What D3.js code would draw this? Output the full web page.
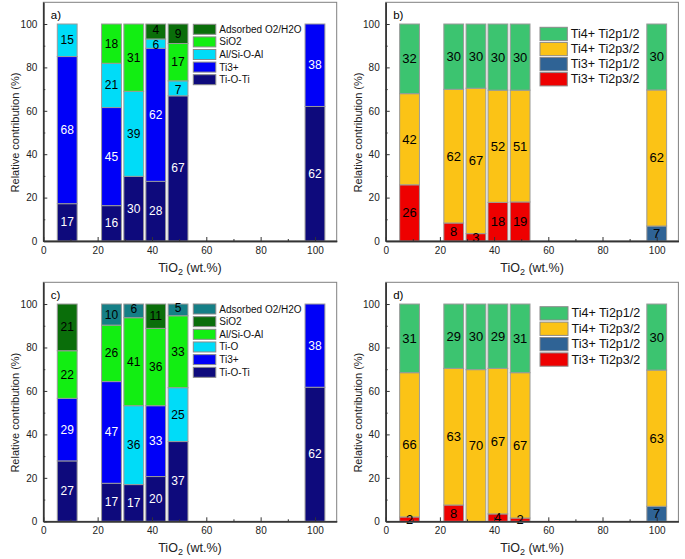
<!DOCTYPE html>
<html><head><meta charset="utf-8">
<script src="https://cdn.jsdelivr.net/npm/d3@7"></script>
<style>body{margin:0;background:#fff}svg{display:block;font-family:"Liberation Sans",Arial,sans-serif}</style>
</head><body><svg id="chart" width="685" height="559"></svg>
<script>
// ---------- DATA ----------
const xVals = [8.8, 25.1, 33.3, 41.4, 49.6, 100];
const xTicks = [0, 20, 40, 60, 80, 100];
const yTicks = [0, 20, 40, 60, 80, 100];

// Panel a (bottom -> top)
const aNames = ["Ti-O-Ti", "Ti3+", "Al/Si-O-Al", "SiO2", "Adsorbed O2/H2O"];
const aValues = [
  [17.2, 16.3, 29.8, 27.5, 66.9, 62],
  [67.8, 45.2, 0, 61.3, 0, 38],
  [15, 20.4, 39.2, 4.3, 6.9, 0],
  [0, 18.1, 31, 0, 17.2, 0],
  [0, 0, 0, 6.9, 9, 0]
];
const aLabels = [
  ["17", "16", "30", "28", "67", "62"],
  ["68", "45", "", "62", "", "38"],
  ["15", "21", "39", "6", "7", ""],
  ["", "18", "31", "", "17", ""],
  ["", "", "", "4", "9", ""]
];

// Panel b (bottom -> top)
const bNames = ["Ti3+ Ti2p3/2", "Ti3+ Ti2p1/2", "Ti4+ Ti2p3/2", "Ti4+ Ti2p1/2"];
const bValues = [
  [25.9, 8.3, 3.4, 17.8, 18, 0],
  [0, 0, 0, 0, 0, 6.9],
  [42, 61.6, 67, 51.7, 51.5, 62.7],
  [32.1, 30.1, 29.6, 30.5, 30.5, 30.4]
];
const bLabels = [
  ["26", "8", "3", "18", "19", ""],
  ["", "", "", "", "", "7"],
  ["42", "62", "67", "52", "51", "62"],
  ["32", "30", "30", "30", "30", "30"]
];

// Panel c (bottom -> top)
const cNames = ["Ti-O-Ti", "Ti3+", "Ti-O", "Al/Si-O-Al", "SiO2", "Adsorbed O2/H2O"];
const cValues = [
  [27.8, 17.5, 16.9, 20.6, 36.7, 61.7],
  [28.8, 46.8, 0, 32.6, 0, 38.3],
  [0, 0, 36.3, 0, 24.8, 0],
  [21.9, 26, 40.5, 35.6, 33.1, 0],
  [21.5, 0, 0, 11.2, 0, 0],
  [0, 9.7, 6.3, 0, 5.4, 0]
];
const cLabels = [
  ["27", "17", "17", "20", "37", "62"],
  ["29", "47", "", "33", "", "38"],
  ["", "", "36", "", "25", ""],
  ["22", "26", "41", "36", "33", ""],
  ["21", "", "", "11", "", ""],
  ["", "10", "6", "", "5", ""]
];

// Panel d (bottom -> top)
const dNames = ["Ti3+ Ti2p3/2", "Ti3+ Ti2p1/2", "Ti4+ Ti2p3/2", "Ti4+ Ti2p1/2"];
const dValues = [
  [2, 7.5, 0, 3.4, 1.5, 0],
  [0, 0, 0, 0, 0, 6.9],
  [66.4, 62.9, 69.8, 67, 66.9, 62.7],
  [31.6, 29.6, 30.2, 29.6, 31.6, 30.4]
];
const dLabels = [
  ["2", "8", "", "4", "2", ""],
  ["", "", "", "", "", "7"],
  ["66", "63", "70", "67", "67", "63"],
  ["31", "29", "30", "29", "31", "30"]
];

// ---------- STYLES ----------
const C = {
  navy: "#0e0a7c", blue: "#0000f8", cyan: "#00dcf8", green: "#12ee12",
  dgreen: "#0a6e0a", teal: "#157f86",
  tgreen: "#3cc470", yellow: "#fbc316", sblue: "#2f6395", red: "#ee0000"
};
const aColors = [C.navy, C.blue, C.cyan, C.green, C.dgreen];
const aText = ["#fff", "#fff", "#000", "#000", "#000"];
const bColors = [C.red, C.sblue, C.yellow, C.tgreen];
const bText = ["#000", "#000", "#000", "#000"];
const cColors = [C.navy, C.blue, C.cyan, C.green, C.dgreen, C.teal];
const cText = ["#fff", "#fff", "#000", "#000", "#000", "#000"];

const svg = d3.select("#chart");
const barW = 7.3;

function drawPanel(p) {
  const g = svg.append("g");
  const x = d3.scaleLinear().domain([0, 108]).range([p.x0, p.x1]);
  const y = d3.scaleLinear().domain([0, 110]).range([p.y0, p.y1]);

  // frame
  g.append("rect").attr("x", p.x0).attr("y", p.y1)
    .attr("width", p.x1 - p.x0).attr("height", p.y0 - p.y1)
    .attr("fill", "none").attr("stroke", "#808080").attr("stroke-width", 1);

  // stacked data
  const rows = xVals.map((xv, i) => {
    const r = { x: xv };
    p.names.forEach((n, k) => r[n] = p.values[k][i]);
    return r;
  });
  const stack = d3.stack().keys(p.names)(rows);

  stack.forEach((layer, k) => {
    layer.forEach((d, i) => {
      const h = d[1] - d[0];
      if (h <= 0) return;
      g.append("rect")
        .attr("x", x(d.data.x - barW / 2))
        .attr("width", x(barW) - x(0))
        .attr("y", y(d[1]))
        .attr("height", y(d[0]) - y(d[1]))
        .attr("fill", p.colors[k])
        .attr("stroke", "#9a9a9a").attr("stroke-width", 1);
    });
  });
  stack.forEach((layer, k) => {
    layer.forEach((d, i) => {
      const lab = p.labels[k][i];
      if (!lab) return;
      const h = d[1] - d[0];
      let dy = 0;
      if (h < 8 && d[0] > 0) dy = d[1] >= 99.9 ? -1.5 : 1.5;
      g.append("text")
        .attr("x", x(d.data.x)).attr("y", y((d[0] + d[1]) / 2) + dy)
        .attr("text-anchor", "middle").attr("dominant-baseline", "central")
        .attr("font-size", p.labelSize).attr("fill", p.textColors[k])
        .text(lab);
    });
  });

  // axes
  const yAx = g.append("g").attr("transform", `translate(${p.x0},0)`)
    .call(d3.axisLeft(y).tickValues(yTicks).tickSizeInner(-4).tickSizeOuter(0).tickPadding(6));
  const yMinor = g.append("g").attr("transform", `translate(${p.x0},0)`)
    .call(d3.axisLeft(y).tickValues([10, 30, 50, 70, 90]).tickSizeInner(-2).tickSizeOuter(0).tickFormat(""));
  const xAx = g.append("g").attr("transform", `translate(0,${p.y0})`)
    .call(d3.axisBottom(x).tickValues(xTicks).tickSizeInner(-4).tickSizeOuter(0).tickPadding(6));
  const xMinor = g.append("g").attr("transform", `translate(0,${p.y0})`)
    .call(d3.axisBottom(x).tickValues([10, 30, 50, 70, 90]).tickSizeInner(-2).tickSizeOuter(0).tickFormat(""));
  [yAx, yMinor, xAx, xMinor].forEach(a => {
    a.selectAll("path").attr("stroke", "#333").attr("stroke-width", 1.3);
    a.selectAll("line").attr("stroke", "#333");
    a.selectAll("text").attr("font-size", 10).attr("fill", "#222")
      .attr("font-family", '"Liberation Sans",Arial,sans-serif');
  });

  // axis titles
  const xt = g.append("text").attr("x", (p.x0 + p.x1) / 2).attr("y", p.y0 + 31)
    .attr("text-anchor", "middle").attr("font-size", 12.5).attr("fill", "#222");
  xt.append("tspan").text("TiO");
  xt.append("tspan").text("2").attr("font-size", 9).attr("dy", 3);
  xt.append("tspan").text(" (wt.%)").attr("dy", -3);

  g.append("text")
    .attr("transform", `translate(${p.x0 - 24},${y(50)}) rotate(-90)`)
    .attr("text-anchor", "middle").attr("font-size", 11).attr("fill", "#222")
    .text("Relative contribution (%)");

  g.append("text").attr("x", p.x0 + 7.5).attr("y", p.y1 + 17)
    .attr("font-size", 11.5).attr("fill", "#000").text(p.tag);

  // legend (top entry = top of stack)
  const n = p.names.length;
  for (let j = 0; j < n; j++) {
    const k = n - 1 - j;
    const yy = p.leg.y + j * p.leg.dy;
    g.append("rect").attr("x", p.leg.x).attr("y", yy)
      .attr("width", p.leg.w).attr("height", p.leg.h)
      .attr("fill", p.colors[k]).attr("stroke", "#8a8a8a").attr("stroke-width", 1);
    g.append("text").attr("x", p.leg.x + p.leg.w + 3.5).attr("y", yy + p.leg.h / 2)
      .attr("dominant-baseline", "central").attr("font-size", p.leg.fs).attr("fill", "#111")
      .text(p.names[k]);
  }
}

drawPanel({ tag: "a)", x0: 43.3, x1: 336.7, y0: 241, y1: 2.3, names: aNames, values: aValues,
  labels: aLabels, colors: aColors, textColors: aText, labelSize: 12,
  leg: { x: 193.3, y: 24.3, w: 22.5, h: 10, dy: 12.6, fs: 10 } });
drawPanel({ tag: "b)", x0: 385.7, x1: 678.4, y0: 241, y1: 2.3, names: bNames, values: bValues,
  labels: bLabels, colors: bColors, textColors: bText, labelSize: 13,
  leg: { x: 540, y: 27.3, w: 27.3, h: 13.3, dy: 15.1, fs: 12.5 } });
drawPanel({ tag: "c)", x0: 43.3, x1: 336.7, y0: 521.3, y1: 282.3, names: cNames, values: cValues,
  labels: cLabels, colors: cColors, textColors: cText, labelSize: 12,
  leg: { x: 193.3, y: 304, w: 22.5, h: 10, dy: 12.66, fs: 10 } });
drawPanel({ tag: "d)", x0: 385.7, x1: 678.4, y0: 521.3, y1: 282.3, names: dNames, values: dValues,
  labels: dLabels, colors: bColors, textColors: bText, labelSize: 13,
  leg: { x: 540, y: 306.7, w: 28, h: 13.3, dy: 15.4, fs: 12.5 } });
</script></body></html>
